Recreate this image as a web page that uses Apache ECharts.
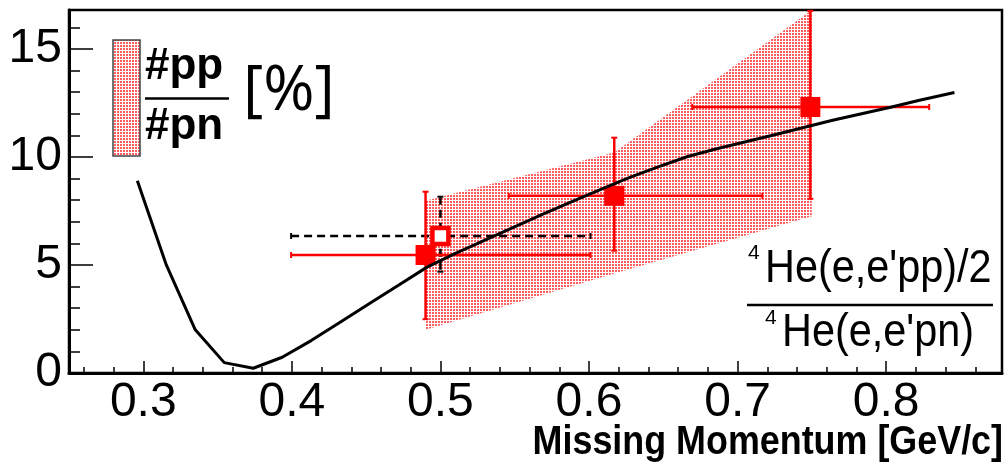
<!DOCTYPE html>
<html><head><meta charset="utf-8">
<script src="https://cdn.jsdelivr.net/npm/echarts@6/dist/echarts.min.js"></script>
<style>html,body{margin:0;padding:0;background:#fff}#c{width:1007px;height:469px}</style>
</head><body><div id="c"></div>
<script>
// ---- data ----
const xTickLabels = [0.3, 0.4, 0.5, 0.6, 0.7, 0.8];
const xMinorTicks = [0.26, 0.28, 0.30, 0.32, 0.34, 0.36, 0.38, 0.40, 0.42, 0.44, 0.46, 0.48, 0.50, 0.52, 0.54, 0.56, 0.58, 0.60, 0.62, 0.64, 0.66, 0.68, 0.70, 0.72, 0.74, 0.76, 0.78, 0.80, 0.82, 0.84, 0.86];
const yTickLabels = [0, 5, 10, 15];
const yMinorTicks = [1, 2, 3, 4, 6, 7, 8, 9, 11, 12, 13, 14, 16];

const curveX = [0.296,0.3155,0.335,0.3545,0.374,0.3935,0.413,0.4325,0.452,0.4715,0.491,0.5105,0.53,0.5495,0.569,0.5885,0.608,0.6275,0.647,0.6665,0.686,0.7055,0.725,0.7445,0.764,0.7835,0.803,0.8225,0.846];
const curveY = [8.9,5.0,2.0,0.48,0.22,0.73,1.5,2.35,3.2,4.05,4.9,5.55,6.15,6.75,7.35,7.93,8.5,9.05,9.55,10.02,10.38,10.7,11.03,11.36,11.7,12.0,12.3,12.62,12.98];

const bandX = [0.49, 0.617, 0.75];
const bandLow = [2.0, 4.6, 7.25];
const bandHigh = [7.97, 10.2, 16.8];

const ptX = [0.490, 0.617, 0.749];
const ptY = [5.46, 8.2, 12.31];
const ptXLo = [0.3995, 0.546, 0.6695];
const ptXHi = [0.601, 0.7167, 0.829];
const ptYLo = [2.49, 5.66, 8.06];
const ptYHi = [8.39, 10.89, 16.76];

const openX = [0.500];
const openY = [6.34];
const openXLo = [0.3995];
const openXHi = [0.601];
const openYLo = [4.69];
const openYHi = [8.16];

// ---- rendering ----
const SANS = "'Liberation Sans', Arial, sans-serif";

function makePattern() {
  const c = document.createElement('canvas');
  c.width = 3; c.height = 3;
  const g = c.getContext('2d');
  g.fillStyle = 'rgba(255,30,30,0.72)';
  g.fillRect(0, 0, 2, 2);
  return c;
}
const pat = { image: makePattern(), repeat: 'repeat' };

function errRenderer(xs, ys, xl, xh, yl, yh, color, dash, lw) {
  return function (params, api) {
    const i = params.dataIndex;
    const l = api.coord([xl[i], ys[i]]), r = api.coord([xh[i], ys[i]]);
    const t = api.coord([xs[i], yh[i]]), b = api.coord([xs[i], yl[i]]);
    const style = { stroke: color, lineWidth: lw, lineDash: dash, fill: null };
    const capStyle = { stroke: color, lineWidth: 2, fill: null };
    const cap = 3;
    return {
      type: 'group', children: [
        { type: 'line', shape: { x1: l[0], y1: l[1], x2: r[0], y2: r[1] }, style },
        { type: 'line', shape: { x1: t[0], y1: t[1], x2: b[0], y2: b[1] }, style },
        { type: 'line', shape: { x1: l[0], y1: l[1] - cap, x2: l[0], y2: l[1] + cap }, style: capStyle },
        { type: 'line', shape: { x1: r[0], y1: r[1] - cap, x2: r[0], y2: r[1] + cap }, style: capStyle },
        { type: 'line', shape: { x1: t[0] - cap, y1: t[1], x2: t[0] + cap, y2: t[1] }, style: capStyle },
        { type: 'line', shape: { x1: b[0] - cap, y1: b[1], x2: b[0] + cap, y2: b[1] }, style: capStyle }
      ]
    };
  };
}

const chart = echarts.init(document.getElementById('c'), null, { renderer: 'canvas' });
const axisCommon = { type: 'value', splitLine: { show: false } };
chart.setOption({
  animation: false,
  backgroundColor: '#fff',
  grid: { left: 69, right: 5, top: 10, bottom: 96, show: true, borderColor: '#000', borderWidth: 2.5 },
  xAxis: [
    Object.assign({}, axisCommon, {
      min: 0.25, max: 0.878, position: 'bottom',
      axisLine: { show: true, onZero: false, lineStyle: { color: '#000', width: 3 } },
      axisTick: { show: true, inside: true, length: 12, customValues: xTickLabels, lineStyle: { color: '#000', width: 1.5 } },
      axisLabel: { customValues: xTickLabels, margin: 6, fontSize: 48, fontFamily: SANS, color: '#000', formatter: v => Number(v).toFixed(1) }
    }),
    Object.assign({}, axisCommon, {
      min: 0.25, max: 0.878, position: 'bottom',
      axisLine: { show: false },
      axisTick: { show: true, inside: true, length: 6, customValues: xMinorTicks, lineStyle: { color: '#000', width: 1.5 } },
      axisLabel: { show: false }
    })
  ],
  yAxis: [
    Object.assign({}, axisCommon, {
      min: 0, max: 16.8, position: 'left',
      axisLine: { show: true, onZero: false, lineStyle: { color: '#000', width: 3 } },
      axisTick: { show: true, inside: true, length: 24, customValues: yTickLabels, lineStyle: { color: '#000', width: 1.5 } },
      axisLabel: { customValues: yTickLabels, margin: 7, fontSize: 48, fontFamily: SANS, color: '#000', formatter: v => String(v) }
    }),
    Object.assign({}, axisCommon, {
      min: 0, max: 16.8, position: 'left',
      axisLine: { show: false },
      axisTick: { show: true, inside: true, length: 11, customValues: yMinorTicks, lineStyle: { color: '#000', width: 1.5 } },
      axisLabel: { show: false }
    })
  ],
  series: [
    {
      type: 'custom', name: 'band', z: 1, silent: true,
      data: [[bandX[0], bandLow[0]]],
      renderItem: function (params, api) {
        const pts = [];
        for (let i = 0; i < bandX.length; i++) pts.push(api.coord([bandX[i], bandLow[i]]));
        for (let i = bandX.length - 1; i >= 0; i--) pts.push(api.coord([bandX[i], bandHigh[i]]));
        return { type: 'polygon', shape: { points: pts }, style: { fill: pat, stroke: null } };
      }
    },
    {
      type: 'custom', name: 'openErr', z: 2, silent: true,
      data: openX.map((x, i) => [x, openY[i]]),
      renderItem: errRenderer(openX, openY, openXLo, openXHi, openYLo, openYHi, '#000', [8, 5], 2.5)
    },
    {
      type: 'custom', name: 'ptErr', z: 3, silent: true,
      data: ptX.map((x, i) => [x, ptY[i]]),
      renderItem: errRenderer(ptX, ptY, ptXLo, ptXHi, ptYLo, ptYHi, '#ff0000', null, 2.5)
    },
    {
      type: 'scatter', z: 4, symbol: 'rect', symbolSize: 20,
      itemStyle: { color: '#ff0000', opacity: 1 },
      data: ptX.map((x, i) => [x, ptY[i]])
    },
    {
      type: 'scatter', z: 4, symbol: 'rect', symbolSize: 16,
      itemStyle: { color: '#fff', borderColor: '#ff0000', borderWidth: 4.5, opacity: 1 },
      data: openX.map((x, i) => [x, openY[i]])
    },
    {
      type: 'line', z: 5, symbol: 'none', smooth: false,
      lineStyle: { color: '#000', width: 3 },
      data: curveX.map((x, i) => [x, curveY[i]])
    }
  ],
  graphic: [
    { type: 'rect', z: 10, shape: { x: 113, y: 40, width: 27, height: 116 }, style: { fill: pat, stroke: '#444', lineWidth: 1.5 } },
    { type: 'text', z: 10, style: { x: 145, y: 67, text: '#pp', font: 'bold 44px ' + SANS, fill: '#000', textVerticalAlign: 'middle' } },
    { type: 'line', z: 10, shape: { x1: 145, y1: 98.5, x2: 229, y2: 98.5 }, style: { stroke: '#000', lineWidth: 2.5 } },
    { type: 'text', z: 10, style: { x: 145, y: 127, text: '#pn', font: 'bold 44px ' + SANS, fill: '#000', textVerticalAlign: 'middle' } },
    { type: 'text', z: 10, style: { x: 243, y: 92, text: '[%]', font: "62px 'Open Sans', sans-serif", fill: '#000', textVerticalAlign: 'middle' } },

    { type: 'text', z: 10, x: 748, y: 253, style: { x: 0, y: 0, text: '4', font: '21px ' + SANS, fill: '#000', textVerticalAlign: 'middle' } },
    { type: 'text', z: 10, x: 765, y: 269, scaleX: 0.9, style: { x: 0, y: 0, text: "He(e,e'pp)/2", font: '46px ' + SANS, fill: '#000', textVerticalAlign: 'middle' } },
    { type: 'line', z: 10, shape: { x1: 747, y1: 305, x2: 993, y2: 305 }, style: { stroke: '#000', lineWidth: 2.5 } },
    { type: 'text', z: 10, x: 765, y: 318, style: { x: 0, y: 0, text: '4', font: '21px ' + SANS, fill: '#000', textVerticalAlign: 'middle' } },
    { type: 'text', z: 10, x: 782, y: 333, scaleX: 0.9, style: { x: 0, y: 0, text: "He(e,e'pn)", font: '46px ' + SANS, fill: '#000', textVerticalAlign: 'middle' } },

    { type: 'text', z: 10, x: 1003, y: 443, scaleX: 0.875, style: { x: 0, y: 0, text: 'Missing Momentum [GeV/c]', font: 'bold 41px ' + SANS, fill: '#000', textAlign: 'right', textVerticalAlign: 'middle' } }
  ]
});
</script>
</body></html>
